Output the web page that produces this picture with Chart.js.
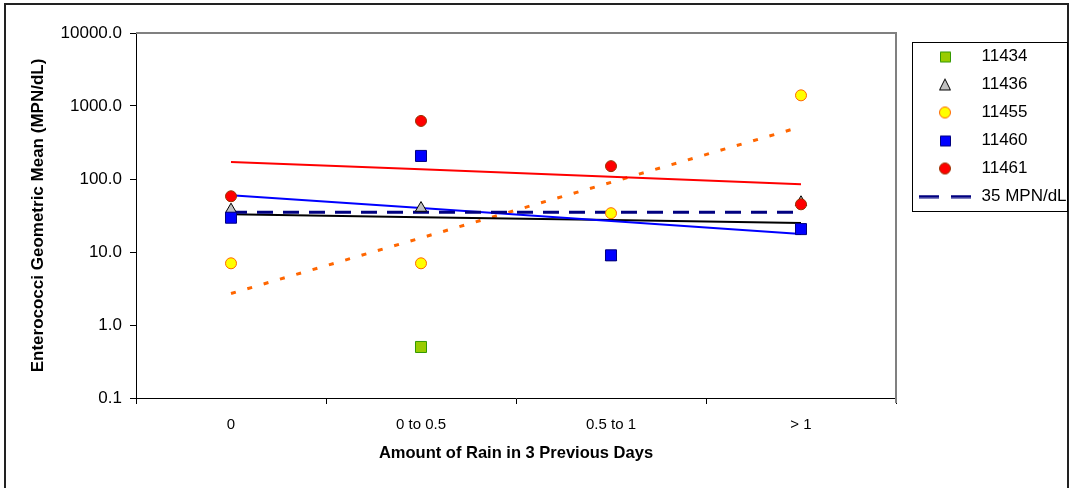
<!DOCTYPE html>
<html>
<head>
<meta charset="utf-8">
<title>Enterococci vs rain</title>
<script src="https://cdn.jsdelivr.net/npm/chart.js@4/dist/chart.umd.min.js"></script>
<style>
  html, body { margin: 0; padding: 0; background: #fff; }
</style>
</head>
<body>
<canvas id="rainChart" width="1071" height="488"></canvas>
<script>
"use strict";
// categories and values
const categories = ["0", "0 to 0.5", "0.5 to 1", "> 1"];
const site11434 = [null, 0.5, null, null];
const site11436 = [38, 40, 8.5, 48];
const site11455 = [7, 7, 34, 1400];
const site11460 = [29.5, 207, 9, 20.6];
const site11461 = [58, 624, 150, 45];
const standard35 = [35, 35, 35, 35];
// trend lines as drawn in the original (value at each category)
const trend11461 = [171, 136, 107, 85];
const trend11460 = [60, 40, 26.6, 17.7];
const trend11436 = [33, 30, 27.4, 25];
const trend11455 = [2.7, 15.6, 90, 520];
const yTicks = [0.1, 1, 10, 100, 1000, 10000];

const SANS = "'Liberation Sans', Arial, sans-serif";

// small canvases used as legend glyphs
function glyph(kind, fill, stroke) {
    const c = document.createElement("canvas");
    if (kind === "dash") {
        c.width = 52; c.height = 4;
        const g = c.getContext("2d");
        g.strokeStyle = stroke; g.lineWidth = 3;
        g.setLineDash([20, 12]);
        g.beginPath(); g.moveTo(0, 2); g.lineTo(52, 2); g.stroke();
        return c;
    }
    c.width = 14; c.height = 14;
    const g = c.getContext("2d");
    g.fillStyle = fill; g.strokeStyle = stroke; g.lineWidth = 1;
    g.beginPath();
    if (kind === "rect") g.rect(2.5, 2.5, 10, 10);
    else if (kind === "circle") g.arc(7, 7, 5.5, 0, Math.PI * 2);
    else { g.moveTo(7, 1.5); g.lineTo(12.5, 12.5); g.lineTo(1.5, 12.5); g.closePath(); }
    g.fill(); g.stroke();
    return c;
}

function pointSet(label, data, style, fill, stroke, radius, order) {
    return {
        label, data, showLine: false, order,
        pointStyle: style, pointRadius: radius, pointHoverRadius: radius,
        pointBackgroundColor: fill, pointBorderColor: stroke, pointBorderWidth: 1,
        backgroundColor: fill, borderColor: stroke,
        legendGlyph: glyph(style === "triangle" ? "tri" : style, fill, stroke)
    };
}
function lineSet(label, data, color, width, dash, order) {
    return {
        label, data, order, borderColor: color, borderWidth: width, borderDash: dash,
        pointRadius: 0, pointHoverRadius: 0, fill: false, tension: 0
    };
}

const datasets = [
    pointSet("11434", site11434, "rect", "#99CC00", "#339900", 7.8, 5),
    pointSet("11436", site11436, "triangle", "#C0C0C0", "#000000", 6.5, 4),
    pointSet("11455", site11455, "circle", "#FFFF00", "#FF6600", 5.5, 3),
    pointSet("11460", site11460, "rect", "#0000FF", "#000080", 7.8, 2),
    pointSet("11461", site11461, "circle", "#FF0000", "#993300", 5.5, 1),
    Object.assign(lineSet("35 MPN/dL", standard35, "#000080", 3, [16, 10], 6),
        { legendGlyph: glyph("dash", null, "#000080") }),
    lineSet("trend 11461", trend11461, "#FF0000", 2, [], 7),
    lineSet("trend 11460", trend11460, "#0000FF", 2, [], 8),
    lineSet("trend 11436", trend11436, "#000000", 2, [], 9),
    lineSet("trend 11455", trend11455, "#FF6600", 3, [5, 12], 10)
];

const framePlugin = {
    id: "frame",
    beforeDraw(chart) {
        const ctx = chart.ctx;
        ctx.save();
        ctx.fillStyle = "#fff";
        ctx.fillRect(0, 0, chart.width, chart.height);
        ctx.strokeStyle = "#222";
        ctx.lineWidth = 2;
        ctx.strokeRect(5, 4, chart.width - 8, chart.height + 10);
        ctx.restore();
    },
    afterLayout(chart) {
        // move the legend a bit right of and below its default spot
        const lg = chart.legend;
        const w = lg.width, h = lg.height;
        lg.left = chart.chartArea.right + 10;
        lg.right = lg.left + w;
        lg.top += 4;
        lg.bottom = lg.top + h;
    },
    beforeDatasetsDraw(chart) {
        const { ctx, chartArea: a } = chart;
        ctx.save();
        ctx.strokeStyle = "#808080";
        ctx.lineWidth = 2;
        ctx.beginPath();
        ctx.moveTo(a.left, a.top);
        ctx.lineTo(a.right, a.top);
        ctx.lineTo(a.right, a.bottom + 5);
        ctx.stroke();
        ctx.restore();
    },
    afterDraw(chart) {
        const boxes = chart.legend.legendHitBoxes;
        if (!boxes || !boxes.length) return;
        const last = boxes[boxes.length - 1];
        const ctx = chart.ctx;
        ctx.save();
        ctx.strokeStyle = "#000";
        ctx.lineWidth = 1;
        ctx.strokeRect(chart.chartArea.right + 16.5, boxes[0].top - 5.5,
            chart.width - chart.chartArea.right - 20, last.top + last.height - boxes[0].top + 12);
        ctx.restore();
    }
};

new Chart(document.getElementById("rainChart"), {
    type: "line",
    data: { labels: categories, datasets },
    plugins: [framePlugin],
    options: {
        responsive: false,
        animation: false,
        events: [],
        layout: { padding: { left: 6, top: 33, right: 15, bottom: 0 } },
        plugins: {
            tooltip: { enabled: false },
            legend: {
                position: "right",
                align: "start",
                maxWidth: 160,
                labels: {
                    usePointStyle: true,
                    pointStyleWidth: 56,
                    padding: 11,
                    color: "#000",
                    font: { family: SANS, size: 17 },
                    filter: (item, data) => !!data.datasets[item.datasetIndex].legendGlyph,
                    sort: (a, b) => a.datasetIndex - b.datasetIndex,
                    generateLabels(chart) {
                        const items = Chart.defaults.plugins.legend.labels.generateLabels(chart);
                        items.forEach(it => {
                            const g = chart.data.datasets[it.datasetIndex].legendGlyph;
                            if (g) it.pointStyle = g;
                        });
                        return items;
                    }
                }
            }
        },
        scales: {
            x: {
                type: "category",
                offset: true,
                grid: { offset: true, drawOnChartArea: false, tickLength: 6, color: "#000" },
                border: { color: "#000", width: 1 },
                ticks: { color: "#000", font: { family: SANS, size: 15 }, padding: 12 },
                title: {
                    display: true, text: "Amount of Rain in 3 Previous Days", color: "#000",
                    font: { family: SANS, size: 16.5, weight: "bold" }, padding: { top: 8, bottom: 25 }
                },
                afterFit(scale) { scale.height = 90; }
            },
            y: {
                type: "logarithmic",
                min: 0.1,
                max: 10000,
                afterBuildTicks(scale) { scale.ticks = yTicks.map(v => ({ value: v })); },
                grid: { drawOnChartArea: false, tickLength: 6, color: "#000" },
                border: { color: "#000", width: 1 },
                ticks: {
                    color: "#000", font: { family: SANS, size: 17 }, padding: 8,
                    callback: v => Number(v).toFixed(1)
                },
                title: {
                    display: true, text: "Enterococci Geometric Mean (MPN/dL)", color: "#000",
                    font: { family: SANS, size: 17, weight: "bold" }, padding: { top: 22 }
                },
                afterFit(scale) { scale.width = 130; }
            }
        }
    }
});
</script>
</body>
</html>
